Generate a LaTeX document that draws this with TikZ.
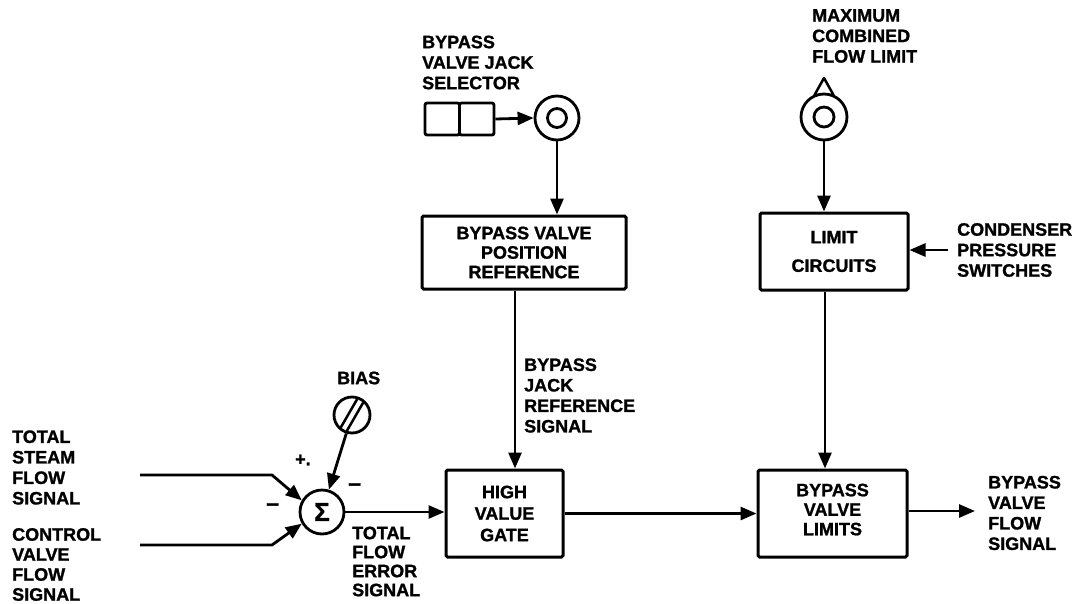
\documentclass[tikz,border=0pt]{standalone}
\usepackage{fontspec}
\setmainfont{Liberation Sans}[BoldFeatures={FakeBold=1.2}]
\usetikzlibrary{arrows.meta,calc}
\begin{document}
\begin{tikzpicture}[x=1pt,y=-1pt,
  every node/.style={inner sep=0pt},
  lbl/.style={font=\fontsize{18}{20.5}\selectfont\bfseries, align=left, anchor=west},
  sgn/.style={font=\fontsize{23}{23}\selectfont\bfseries, anchor=west},
  box/.style={draw, line width=3pt, rounded corners=1.5pt, font=\fontsize{18}{19.5}\selectfont\bfseries, align=center},
  conn/.style={line width=2.8pt, -{Triangle[length=16pt,width=13pt]}},
  ring/.style={draw, circle, line width=2.8pt}]
\useasboundingbox (0,0) rectangle (1080,603);

% blocks
\node[box, minimum width=204pt, minimum height=73pt] (bpr) at (524,252.5) {BYPASS VALVE\\POSITION\\REFERENCE};
\node[box, minimum width=148pt, minimum height=77pt] (lim) at (834,251.5) {LIMIT\\[9pt]CIRCUITS};
\node[box, minimum width=117pt, minimum height=87pt] (gate) at (504.5,513.5) {HIGH\\[2pt]VALUE\\[2pt]GATE};
\node[box, minimum width=149pt, minimum height=87pt, text depth=8pt] (bvl) at (832.5,513.5) {BYPASS\\VALVE\\LIMITS};

% selector and dials
\node[draw, line width=2.8pt, rounded corners=2pt, minimum width=34.5pt, minimum height=32pt] (sel1) at (442.25,119) {};
\node[draw, line width=2.8pt, rounded corners=2pt, minimum width=34.5pt, minimum height=32pt] (sel2) at (476.75,119) {};
\node[ring, minimum size=44pt] (jack) at (557,118) {};
\draw[line width=2.8pt] (jack.center) circle[radius=9.5pt];
\draw[line width=2.5pt, fill=white, line join=round] (824,78) -- (814.5,95) -- (833.5,95) -- cycle;
\node[ring, minimum size=46pt, fill=white] (dial) at (824,117) {};
\draw[line width=2.8pt] (dial.center) circle[radius=10pt];
\node[ring, minimum size=44pt, font=\fontsize{26}{26}\selectfont\bfseries] (sum) at (322,512) {Σ};
\node[ring, minimum size=36pt] (bias) at (352,415) {};
\begin{scope}[shift={(bias.center)}]
  \draw[line width=2.5pt] (-5.2,15.95) -- (11.2,-12.45);
  \draw[line width=2.5pt] (-11.2,12.45) -- (5.2,-15.95);
\end{scope}

% labels
\node[lbl] (tsf) at (12,467.5) {TOTAL\\STEAM\\FLOW\\SIGNAL};
\node[lbl, font=\fontsize{18}{20}\selectfont\bfseries] (cvf) at (12,564.5) {CONTROL\\VALVE\\FLOW\\SIGNAL};
\node[lbl, font=\fontsize{18}{19}\selectfont\bfseries] (tfes) at (352,561.5) {TOTAL\\FLOW\\ERROR\\SIGNAL};
\node[lbl] (biasl) at (337,378) {BIAS};
\node[lbl] (bjrs) at (524,395.5) {BYPASS\\JACK\\REFERENCE\\SIGNAL};
\node[lbl] (bvjs) at (422,62.5) {BYPASS\\VALVE JACK\\SELECTOR};
\node[lbl] (mcfl) at (812,36) {MAXIMUM\\COMBINED\\FLOW LIMIT};
\node[lbl] (cond) at (957,250) {CONDENSER\\PRESSURE\\SWITCHES};
\node[lbl] (bvfs) at (988,513) {BYPASS\\VALVE\\FLOW\\SIGNAL};
\node[lbl] (plus) at (295,460) {+.};
\node[sgn] (m1) at (266,507) {--};
\node[sgn] (m2) at (348,487) {--};

% connectors
\draw[conn] (sel2.east) -- (jack.west);
\draw[conn] (jack.south) -- (jack.south |- bpr.north);
\coordinate (bpro) at ([xshift=-9pt]bpr.south);
\draw[conn] (bpro) -- (bpro |- gate.north);
\draw[conn] (dial.south) -- (dial.south |- lim.north);
\coordinate (limo) at ([xshift=-9pt]lim.south);
\draw[conn] (limo) -- (limo |- bvl.north);
\coordinate (condin) at ([xshift=-9pt]cond.west);
\draw[conn] (condin) -- (condin -| lim.east);
\draw[conn] (gate.east) -- (bvl.west);
\coordinate (outend) at (975,511);
\draw[conn] (bvl.east |- outend) -- (outend);
\draw[conn] (sum.east) -- (sum.east -| gate.west);
\draw[conn] (bias) -- (sum);
\coordinate (in1) at (140,475);
\coordinate (k1) at (272,475);
\draw[conn] (in1) -- (k1) -- (sum.150);
\coordinate (in2) at (140,545);
\coordinate (k2) at (272,545);
\draw[conn] (in2) -- (k2) -- (sum.210);
\end{tikzpicture}
\end{document}
